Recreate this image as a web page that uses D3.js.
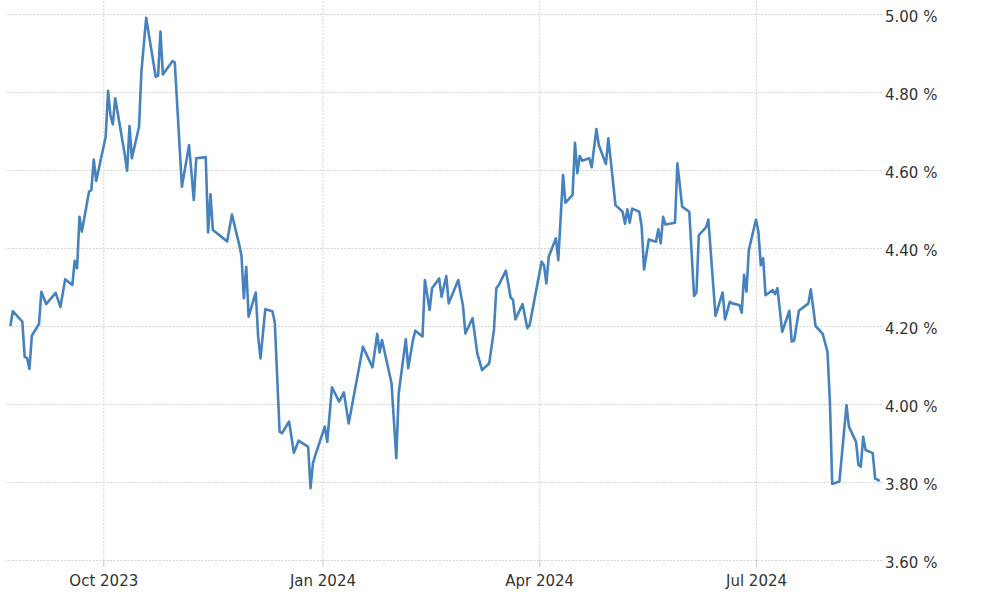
<!DOCTYPE html>
<html lang="en">
<head>
  <meta charset="utf-8">
  <title>Yield</title>
  <script src="https://d3js.org/d3.v7.min.js"></script>
  <style>
    body { margin: 0; background: #fff; }
    .axis text { font-family: "DejaVu Sans", Verdana, sans-serif; font-size: 15px; fill: #333; }
  </style>
</head>
<body>
  <div id="chart"></div>

  <script>
    "use strict";

    // values (turning points of the line)
    var dates = [
      "2023-08-23","2023-08-24","2023-08-28","2023-08-29","2023-08-30","2023-08-31","2023-09-01","2023-09-04",
      "2023-09-05","2023-09-07","2023-09-11","2023-09-13","2023-09-15","2023-09-18","2023-09-19","2023-09-20",
      "2023-09-21","2023-09-22","2023-09-25","2023-09-26","2023-09-27","2023-09-28","2023-10-02","2023-10-03",
      "2023-10-04","2023-10-05","2023-10-06","2023-10-10","2023-10-11","2023-10-12","2023-10-13","2023-10-16",
      "2023-10-17","2023-10-19","2023-10-23","2023-10-24","2023-10-25","2023-10-26","2023-10-30","2023-10-31",
      "2023-11-03","2023-11-06","2023-11-08","2023-11-09","2023-11-13","2023-11-14","2023-11-15","2023-11-16",
      "2023-11-22","2023-11-24","2023-11-27","2023-11-28","2023-11-29","2023-11-30","2023-12-01","2023-12-04",
      "2023-12-05","2023-12-06","2023-12-08","2023-12-11","2023-12-12","2023-12-14","2023-12-15","2023-12-18",
      "2023-12-20","2023-12-22","2023-12-26","2023-12-27","2023-12-28","2023-12-29","2024-01-02","2024-01-03",
      "2024-01-05","2024-01-08","2024-01-10","2024-01-12","2024-01-18","2024-01-22","2024-01-24","2024-01-25",
      "2024-01-26","2024-01-30","2024-02-01","2024-02-02","2024-02-05","2024-02-06","2024-02-08","2024-02-09",
      "2024-02-12","2024-02-13","2024-02-15","2024-02-16","2024-02-19","2024-02-20","2024-02-22","2024-02-23",
      "2024-02-27","2024-02-29","2024-03-01","2024-03-04","2024-03-06","2024-03-08","2024-03-11","2024-03-13",
      "2024-03-14","2024-03-15","2024-03-18","2024-03-20","2024-03-21","2024-03-22","2024-03-25","2024-03-27",
      "2024-03-28","2024-04-02","2024-04-03","2024-04-04","2024-04-05","2024-04-08","2024-04-09","2024-04-11",
      "2024-04-12","2024-04-15","2024-04-16","2024-04-17","2024-04-18","2024-04-19","2024-04-22","2024-04-23",
      "2024-04-25","2024-04-26","2024-04-29","2024-04-30","2024-05-01","2024-05-03","2024-05-06","2024-05-07",
      "2024-05-08","2024-05-09","2024-05-10","2024-05-13","2024-05-14","2024-05-15","2024-05-17","2024-05-20",
      "2024-05-21","2024-05-22","2024-05-23","2024-05-24","2024-05-28","2024-05-29","2024-05-31","2024-06-03",
      "2024-06-05","2024-06-06","2024-06-07","2024-06-10","2024-06-11","2024-06-14","2024-06-17","2024-06-18",
      "2024-06-20","2024-06-21","2024-06-24","2024-06-25","2024-06-26","2024-06-27","2024-06-28","2024-07-01",
      "2024-07-02","2024-07-03","2024-07-04","2024-07-05","2024-07-08","2024-07-09","2024-07-10","2024-07-12",
      "2024-07-15","2024-07-16","2024-07-17","2024-07-19","2024-07-23","2024-07-24","2024-07-26","2024-07-29",
      "2024-07-31","2024-08-01","2024-08-02","2024-08-05","2024-08-08","2024-08-09","2024-08-12","2024-08-13",
      "2024-08-14","2024-08-15","2024-08-16","2024-08-19","2024-08-20","2024-08-22"
    ];
    var yields = [
      4.20, 4.238, 4.211, 4.121, 4.118, 4.09, 4.175, 4.205,
      4.288, 4.256, 4.285, 4.249, 4.32, 4.305, 4.367, 4.348,
      4.48, 4.442, 4.544, 4.549, 4.627, 4.572, 4.685, 4.803,
      4.74, 4.717, 4.784, 4.64, 4.598, 4.713, 4.63, 4.711,
      4.852, 4.99, 4.839, 4.842, 4.955, 4.845, 4.879, 4.876,
      4.557, 4.664, 4.523, 4.63, 4.633, 4.44, 4.538, 4.446,
      4.417, 4.486, 4.41, 4.38, 4.271, 4.352, 4.224, 4.286,
      4.173, 4.117, 4.243, 4.238, 4.209, 3.929, 3.925, 3.955,
      3.875, 3.906, 3.89, 3.784, 3.848, 3.869, 3.942, 3.903,
      4.043, 4.006, 4.03, 3.95, 4.147, 4.094, 4.18, 4.132,
      4.164, 4.053, 3.861, 4.027, 4.166, 4.092, 4.164, 4.188,
      4.173, 4.318, 4.241, 4.297, 4.322, 4.275, 4.328, 4.258,
      4.318, 4.251, 4.181, 4.22, 4.13, 4.087, 4.104, 4.19,
      4.297, 4.305, 4.342, 4.273, 4.267, 4.217, 4.256, 4.194,
      4.203, 4.365, 4.356, 4.309, 4.378, 4.425, 4.369, 4.587,
      4.516, 4.536, 4.67, 4.592, 4.636, 4.624, 4.63, 4.607,
      4.705, 4.664, 4.615, 4.681, 4.626, 4.51, 4.493, 4.462,
      4.499, 4.465, 4.501, 4.493, 4.455, 4.345, 4.422, 4.416,
      4.448, 4.412, 4.48, 4.46, 4.465, 4.617, 4.506, 4.493,
      4.277, 4.286, 4.433, 4.453, 4.473, 4.226, 4.286, 4.217,
      4.262, 4.258, 4.254, 4.234, 4.331, 4.288, 4.395, 4.473,
      4.442, 4.356, 4.374, 4.279, 4.292, 4.282, 4.297, 4.185,
      4.239, 4.16, 4.162, 4.239, 4.258, 4.294, 4.20, 4.18,
      4.134, 4.01, 3.795, 3.801, 3.997, 3.942, 3.903, 3.844,
      3.839, 3.916, 3.882, 3.874, 3.809, 3.803
    ];

    var yTicks = [3.6, 3.8, 4.0, 4.2, 4.4, 4.6, 4.8, 5.0];
    var xTicks = ["2023-10-01", "2024-01-01", "2024-04-01", "2024-07-01"];
    var xTickLabels = ["Oct 2023", "Jan 2024", "Apr 2024", "Jul 2024"];

    var largura = 1000, altura = 600;
    var plot = {left: 6, right: 882, top: 0, bottom: 560};

    var parse = d3.utcParse("%Y-%m-%d");

    function desenha() {
      var svg = d3.select("#chart").append("svg")
          .attr("width", largura)
          .attr("height", altura);

      var x = d3.scaleUtc()
          .domain([parse("2023-10-01"), parse("2024-07-01")])
          .range([103.3, 756]);
      var y = d3.scaleLinear()
          .domain([3.6, 5.0])
          .range([560, 14]);

      var dados = dates.map(function(d, i) { return {data: parse(d), valor: yields[i]}; });

      // grade horizontal + rotulos a direita
      var eixoY = svg.append("g")
          .attr("class", "axis")
          .attr("transform", "translate(" + plot.right + ",0)")
          .call(d3.axisRight(y)
              .tickValues(yTicks)
              .tickSize(-(plot.right - plot.left))
              .tickPadding(3)
              .tickFormat(function(d) { return d.toFixed(2) + " %"; }));
      eixoY.select(".domain").remove();
      eixoY.selectAll("line")
          .attr("stroke", "#d2d2d2")
          .attr("stroke-dasharray", "2,1.5");
      eixoY.selectAll("text").attr("dy", "0.53em");

      // grade vertical
      var gradeX = svg.append("g")
          .attr("transform", "translate(0," + plot.bottom + ")")
          .call(d3.axisBottom(x)
              .tickValues(xTicks.map(parse))
              .tickSize(-plot.bottom)
              .tickFormat(""));
      gradeX.select(".domain").remove();
      gradeX.selectAll("line")
          .attr("stroke", "#d2d2d2")
          .attr("stroke-dasharray", "2,1.5");

      // eixo x com marcas pequenas
      var eixoX = svg.append("g")
          .attr("class", "axis")
          .attr("transform", "translate(0," + plot.bottom + ")")
          .call(d3.axisBottom(x)
              .tickValues(xTicks.map(parse))
              .tickSize(7)
              .tickPadding(8)
              .tickFormat(function(d, i) { return xTickLabels[i]; }));
      eixoX.select(".domain").remove();
      eixoX.selectAll("line").attr("stroke", "#c8c8c8");

      var linha = d3.line()
          .x(function(d) { return x(d.data); })
          .y(function(d) { return y(d.valor); });

      svg.append("path")
          .datum(dados)
          .attr("fill", "none")
          .attr("stroke", "#4682bd")
          .attr("stroke-width", 2.6)
          .attr("stroke-linejoin", "round")
          .attr("d", linha);
    }

    desenha();
  </script>
</body>
</html>
